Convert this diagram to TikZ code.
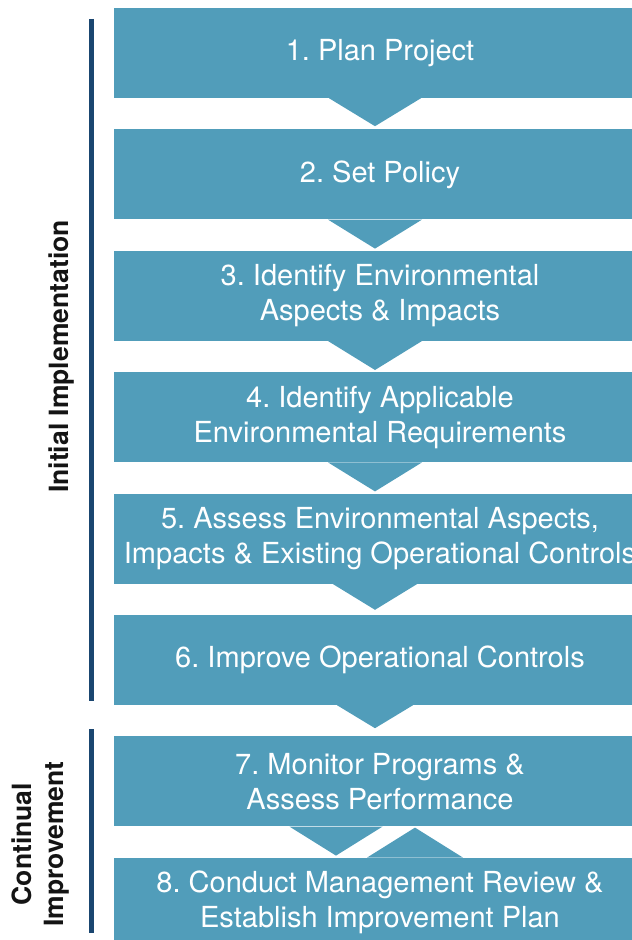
\documentclass[tikz,border=0pt]{standalone}
\usepackage{fontspec}
\setsansfont{TeX Gyre Heros}
\usepackage{xcolor}
\usetikzlibrary{positioning, calc}
\definecolor{stepcolor}{RGB}{81,157,186}
\definecolor{barcolor}{RGB}{26,70,112}
\definecolor{labelcolor}{RGB}{20,20,20}
\frenchspacing

\begin{document}
\begin{tikzpicture}[
    x=1pt, y=1pt,
    node distance=31pt,
    font=\sffamily,
    stepbox/.style={
        rectangle,
        minimum width=532pt,
        minimum height=90pt,
        inner sep=0pt,
        align=center,
        fill=stepcolor,
        text=white,
        font=\sffamily\fontsize{29}{35}\selectfont
    },
    phasebar/.style={line width=5pt, color=barcolor},
    phaselabel/.style={
        rotate=90,
        align=center,
        text=labelcolor,
        font=\sffamily\bfseries\fontsize{26.5}{32}\selectfont
    },
    chevron/.style={fill=stepcolor}
]

\useasboundingbox (0,0) rectangle (632,-940);
\clip (0,0) rectangle (632,-940);

%% STEP BOXES %%
\node (box1) [stepbox] at (380,-53) {1. Plan Project};
\node (box2) [stepbox, below=of box1] {2. Set Policy};
\node (box3) [stepbox, below=of box2] {3. Identify Environmental\\Aspects \& Impacts};
\node (box4) [stepbox, below=of box3] {4. Identify Applicable\\Environmental Requirements};
\node (box5) [stepbox, below=of box4] {5. Assess Environmental Aspects,\\Impacts \& Existing Operational Controls};
\node (box6) [stepbox, below=of box5] {6. Improve Operational Controls};
\node (box7) [stepbox, below=of box6] {7. Monitor Programs \&\\Assess Performance};
\node (box8) [stepbox, below=of box7] {8. Conduct Management Review \&\\Establish Improvement Plan};

%% CHEVRONS %%
\foreach \from/\hw/\dp in {box1/46/28, box2/47/29, box3/47/29, box4/47/29, box5/42.5/26, box6/38/23}
    \fill [chevron] ($(\from.south)+({-5-\hw},0)$) -- ($(\from.south)+({-5+\hw},0)$) -- ($(\from.south)+(-5,-\dp)$) -- cycle;

% loop back between 7 and 8
\fill [chevron] ($(box7.south)+(-90.5,0)$) -- ($(box7.south)+(2.5,0)$) -- ($(box7.south)+(-44,-29)$) -- cycle;
\fill [chevron] ($(box8.north)+(-13,0)$) -- ($(box8.north)+(83,0)$) -- ($(box8.north)+(35,30)$) -- cycle;

%% PHASE BARS %%
\draw [phasebar] ($(box1.north west)+(-22.5,-11)$) -- ($(box6.south west)+(-22.5,4)$);
\draw [phasebar] ($(box7.north west)+(-22.5,7)$) -- ($(box8.south west)+(-22.5,15)$);

%% PHASE LABELS %%
\node (initial) [phaselabel] at ($(box1.north west)!0.5!(box6.south west)+(-52,0)$) {Initial Implementation};
\node (continual) [phaselabel] at ($(box7.north west)!0.5!(box8.south west)+(-73.5,-2)$) {Continual\\Improvement};

\end{tikzpicture}
\end{document}
